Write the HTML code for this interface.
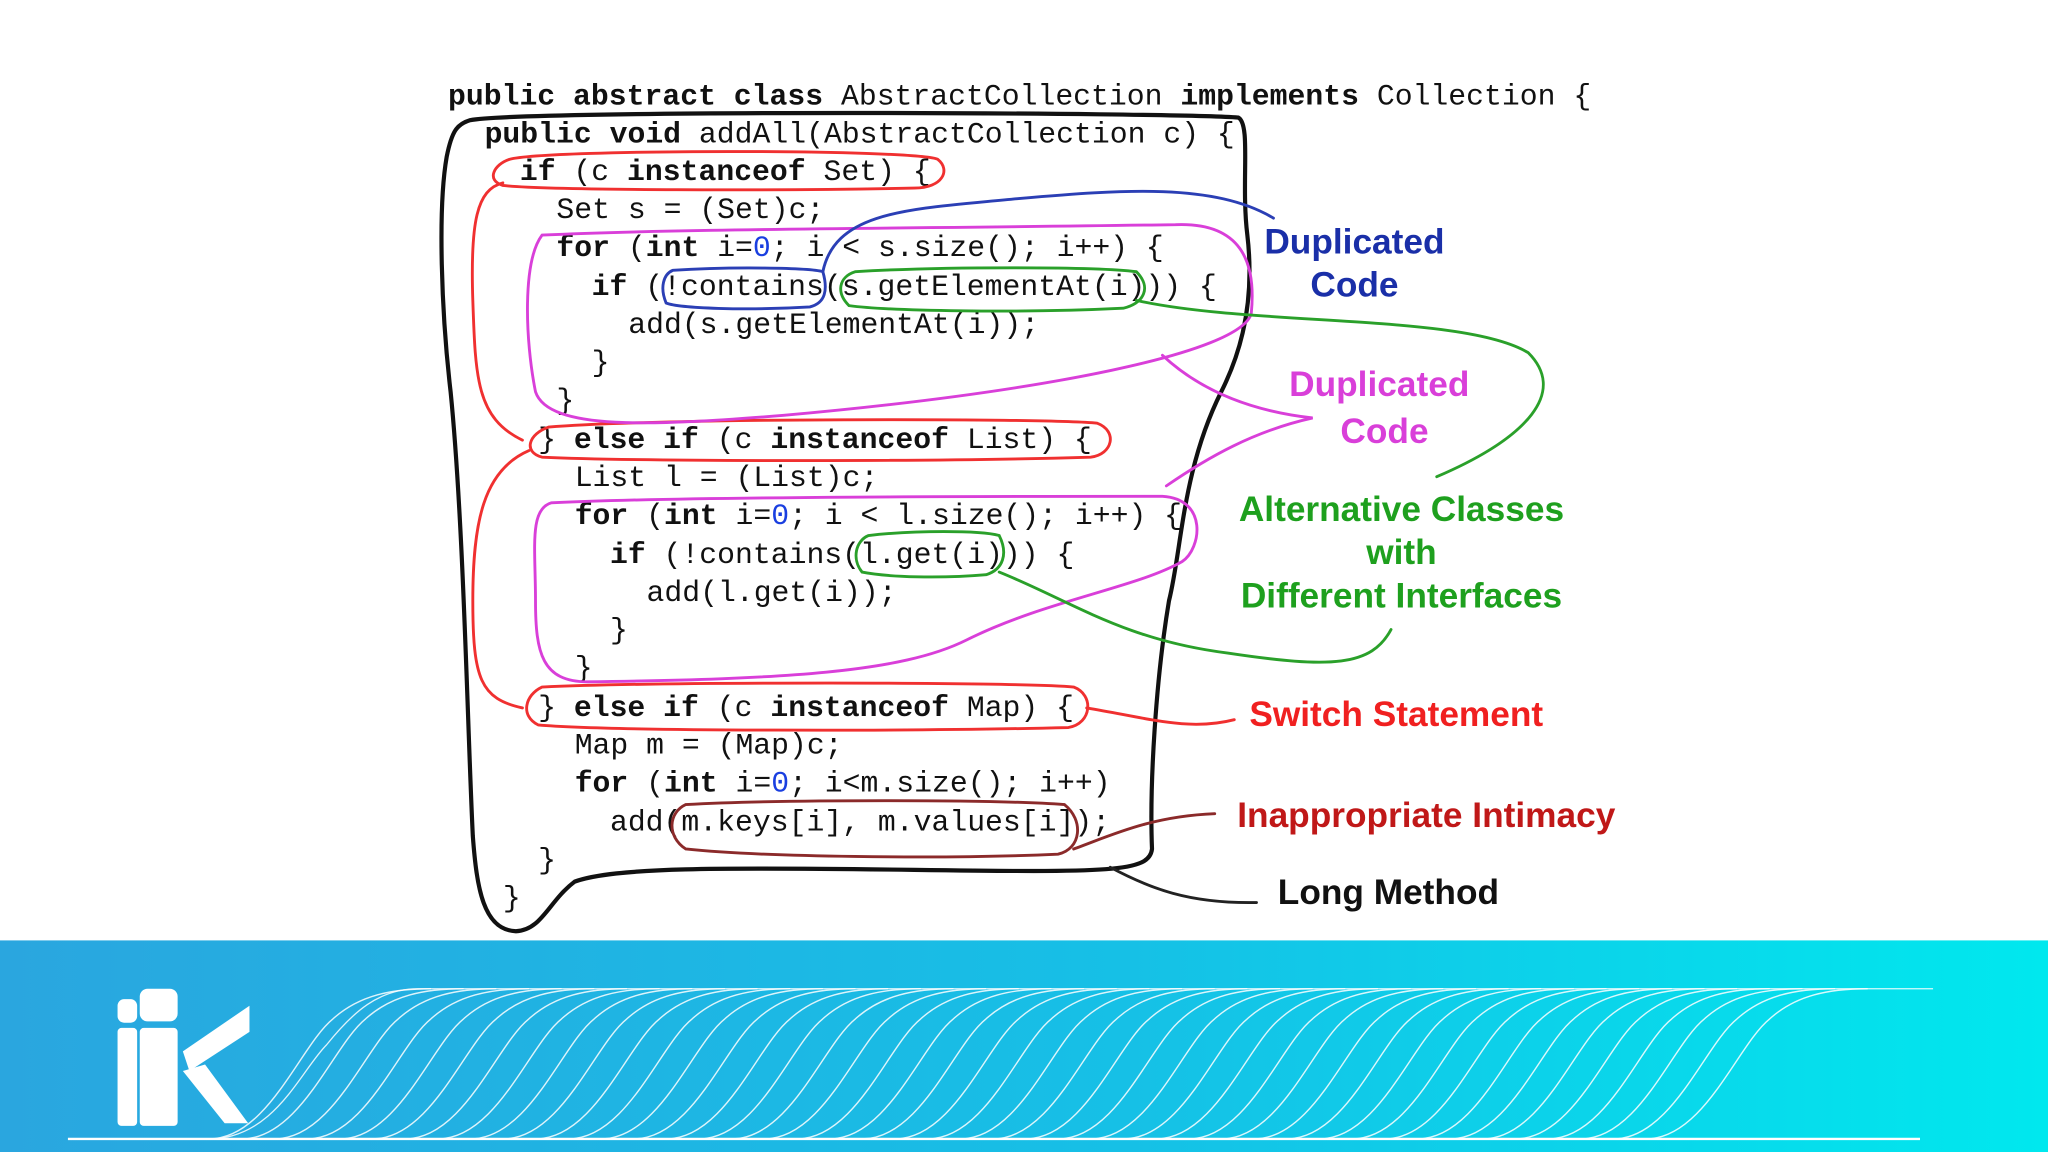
<!DOCTYPE html>
<html><head><meta charset="utf-8"><style>
html,body{margin:0;padding:0;width:2048px;height:1152px;overflow:hidden;background:#fff}
svg{display:block}
.c{font-family:"Liberation Mono",monospace;font-size:22.8px;fill:#111}
.c tspan.b{font-weight:bold}
.z{fill:#1a3fe0}
.l{font-family:"Liberation Sans",sans-serif;font-weight:bold;font-size:27px;text-anchor:middle}
</style></head><body>
<svg width="2048" height="1152" viewBox="0 0 1568 882">
<defs>
<linearGradient id="g" x1="0" x2="1" y1="0" y2="0">
<stop offset="0" stop-color="#2aa6df"/><stop offset="0.55" stop-color="#16c0e6"/><stop offset="1" stop-color="#00e8ee"/>
</linearGradient>
</defs>
<g class="c">
<text x="343" y="80"><tspan class="b">public abstract class</tspan> AbstractCollection <tspan class="b">implements</tspan> Collection {</text>
<text x="371" y="109"><tspan class="b">public void</tspan> addAll(AbstractCollection c) {</text>
<text x="398" y="138"><tspan class="b">if</tspan> (c <tspan class="b">instanceof</tspan> Set) {</text>
<text x="426" y="167">Set s = (Set)c;</text>
<text x="426" y="196"><tspan class="b">for</tspan> (<tspan class="b">int</tspan> i=<tspan class="z">0</tspan>; i &lt; s.size(); i++) {</text>
<text x="453" y="226"><tspan class="b">if</tspan> (!contains(s.getElementAt(i))) {</text>
<text x="481" y="255">add(s.getElementAt(i));</text>
<text x="453" y="284">}</text>
<text x="426" y="313">}</text>
<text x="412" y="343">} <tspan class="b">else if</tspan> (c <tspan class="b">instanceof</tspan> List) {</text>
<text x="440" y="372">List l = (List)c;</text>
<text x="440" y="401"><tspan class="b">for</tspan> (<tspan class="b">int</tspan> i=<tspan class="z">0</tspan>; i &lt; l.size(); i++) {</text>
<text x="467" y="431"><tspan class="b">if</tspan> (!contains(l.get(i))) {</text>
<text x="495" y="460">add(l.get(i));</text>
<text x="467" y="489">}</text>
<text x="440" y="518">}</text>
<text x="412" y="548">} <tspan class="b">else if</tspan> (c <tspan class="b">instanceof</tspan> Map) {</text>
<text x="440" y="577">Map m = (Map)c;</text>
<text x="440" y="606"><tspan class="b">for</tspan> (<tspan class="b">int</tspan> i=<tspan class="z">0</tspan>; i&lt;m.size(); i++)</text>
<text x="467" y="636">add(m.keys[i], m.values[i]);</text>
<text x="412" y="665">}</text>
<text x="385" y="694">}</text>
</g>
<g fill="none" stroke-width="2.2" stroke-linecap="round">
<!-- long method black -->
<path d="M360,92 C400,84 900,86 948,90 C958,95 950,140 955,180 C962,240 945,280 935,300 C905,360 905,420 895,460 C885,520 880,600 882,650 C880,668 850,668 700,666 C550,664 470,664 440,675 C420,690 415,712 395,713 C370,712 365,680 362,640 C358,560 355,400 345,300 C338,240 335,160 342,120 C346,100 350,95 360,92 Z" stroke="#111" stroke-width="3.2"/>
<path d="M850,664 C880,680 910,692 962,691" stroke="#222"/>
<!-- red -->
<path d="M390,122 C420,114 700,114 718,122 C728,130 722,144 700,144 C600,146 420,146 385,142 C372,138 378,126 390,122 Z" stroke="#f03030"/>
<path d="M385,140 C365,145 360,170 362,230 C364,290 365,320 400,337" stroke="#f03030"/>
<path d="M420,327 C500,320 800,320 840,324 C856,330 852,348 835,350 C700,354 480,353 415,350 C400,346 405,332 420,327 Z" stroke="#f03030"/>
<path d="M405,345 C370,360 362,400 362,460 C362,520 368,535 400,542" stroke="#f03030"/>
<path d="M415,526 C500,522 780,522 822,526 C838,532 836,554 818,557 C700,560 470,560 412,555 C398,548 402,532 415,526 Z" stroke="#f03030"/>
<path d="M832,542 C880,550 910,560 945,551" stroke="#f03030"/>
<!-- magenta -->
<path d="M415,180 C520,175 700,175 900,172 C950,170 962,200 958,240 C950,270 800,300 600,318 C500,326 420,330 410,300 C402,260 400,200 415,180 Z" stroke="#d93fd9"/>
<path d="M422,385 C520,380 780,380 890,380 C925,382 920,420 905,430 C870,450 800,460 740,490 C690,515 600,520 450,522 C415,522 410,500 410,460 C410,420 405,390 422,385 Z" stroke="#d93fd9"/>
<path d="M890,272 C920,300 960,315 1005,320 C960,330 925,350 893,372" stroke="#d93fd9"/>
<!-- blue -->
<path d="M515,207 C560,204 620,205 630,208 C634,222 632,232 620,235 C570,238 520,236 510,232 C505,220 508,210 515,207 Z" stroke="#2b3fb5"/>
<path d="M630,208 C640,160 700,160 780,152 C860,145 930,140 975,167" stroke="#2b3fb5"/>
<!-- green -->
<path d="M655,208 C720,204 840,204 870,208 C882,220 876,232 860,236 C780,240 680,238 650,234 C640,224 642,212 655,208 Z" stroke="#2aa02a"/>
<path d="M870,230 C960,250 1120,240 1170,270 C1200,300 1170,335 1100,365" stroke="#2aa02a"/>
<path d="M665,410 C700,406 750,406 765,410 C772,424 768,436 755,440 C720,443 680,442 660,438 C652,428 655,414 665,410 Z" stroke="#2aa02a"/>
<path d="M765,438 C820,460 860,490 940,500 C1020,512 1050,510 1065,482" stroke="#2aa02a"/>
<!-- brown -->
<path d="M525,616 C600,612 760,612 815,616 C830,628 828,650 810,654 C720,658 580,656 525,650 C510,640 512,622 525,616 Z" stroke="#8b2a2a"/>
<path d="M822,650 C850,640 880,625 930,623" stroke="#8b2a2a"/>
</g>
<text class="l" x="1037" y="194" fill="#1a2fa8">Duplicated</text>
<text class="l" x="1037" y="227" fill="#1a2fa8">Code</text>
<text class="l" x="1056" y="303" fill="#d93fd9">Duplicated</text>
<text class="l" x="1060" y="339" fill="#d93fd9">Code</text>
<text class="l" x="1073" y="399" fill="#1ea01e">Alternative Classes</text>
<text class="l" x="1073" y="432" fill="#1ea01e">with</text>
<text class="l" x="1073" y="465" fill="#1ea01e">Different Interfaces</text>
<text class="l" x="1069" y="556" fill="#f02020">Switch Statement</text>
<text class="l" x="1092" y="633" fill="#c01818">Inappropriate Intimacy</text>
<text class="l" x="1063" y="692" fill="#111">Long Method</text>
<!-- footer -->
<rect x="0" y="720" width="1568" height="162" fill="url(#g)"/>
<g fill="#fff">
<rect x="90" y="765" width="15" height="18" rx="5"/>
<rect x="90" y="787" width="15" height="75" rx="3"/>
<rect x="107" y="757" width="29" height="25" rx="6"/>
<rect x="107" y="787" width="29" height="75" rx="3"/>
<polygon points="140,805 191,770 191,790 145,820"/>
<polygon points="140,820 157,815 190,860 172,860"/>
</g>
<line x1="52" y1="872" x2="1470" y2="872" stroke="#fff" stroke-width="1.8"/>
<g fill="none" stroke="#fff" stroke-width="1" opacity="0.85">
<path id="w" d="M160,872 C210,872 230,820 250,800 C270,775 290,757 320,757 L1480,757"/>
</g>
<g fill="none" stroke="#fff" stroke-width="1.1" opacity="0.85">
<path d="M160,872 C205,872 230,800 255,780 C275,762 300,757 330,757"/>
<path d="M185,872 C230,872 255,800 280,780 C300,762 325,757 355,757"/>
<path d="M210,872 C255,872 280,800 305,780 C325,762 350,757 380,757"/>
<path d="M235,872 C280,872 305,800 330,780 C350,762 375,757 405,757"/>
<path d="M260,872 C305,872 330,800 355,780 C375,762 400,757 430,757"/>
<path d="M285,872 C330,872 355,800 380,780 C400,762 425,757 455,757"/>
<path d="M310,872 C355,872 380,800 405,780 C425,762 450,757 480,757"/>
<path d="M335,872 C380,872 405,800 430,780 C450,762 475,757 505,757"/>
<path d="M360,872 C405,872 430,800 455,780 C475,762 500,757 530,757"/>
<path d="M385,872 C430,872 455,800 480,780 C500,762 525,757 555,757"/>
<path d="M410,872 C455,872 480,800 505,780 C525,762 550,757 580,757"/>
<path d="M435,872 C480,872 505,800 530,780 C550,762 575,757 605,757"/>
<path d="M460,872 C505,872 530,800 555,780 C575,762 600,757 630,757"/>
<path d="M485,872 C530,872 555,800 580,780 C600,762 625,757 655,757"/>
<path d="M510,872 C555,872 580,800 605,780 C625,762 650,757 680,757"/>
<path d="M535,872 C580,872 605,800 630,780 C650,762 675,757 705,757"/>
<path d="M560,872 C605,872 630,800 655,780 C675,762 700,757 730,757"/>
<path d="M585,872 C630,872 655,800 680,780 C700,762 725,757 755,757"/>
<path d="M610,872 C655,872 680,800 705,780 C725,762 750,757 780,757"/>
<path d="M635,872 C680,872 705,800 730,780 C750,762 775,757 805,757"/>
<path d="M660,872 C705,872 730,800 755,780 C775,762 800,757 830,757"/>
<path d="M685,872 C730,872 755,800 780,780 C800,762 825,757 855,757"/>
<path d="M710,872 C755,872 780,800 805,780 C825,762 850,757 880,757"/>
<path d="M735,872 C780,872 805,800 830,780 C850,762 875,757 905,757"/>
<path d="M760,872 C805,872 830,800 855,780 C875,762 900,757 930,757"/>
<path d="M785,872 C830,872 855,800 880,780 C900,762 925,757 955,757"/>
<path d="M810,872 C855,872 880,800 905,780 C925,762 950,757 980,757"/>
<path d="M835,872 C880,872 905,800 930,780 C950,762 975,757 1005,757"/>
<path d="M860,872 C905,872 930,800 955,780 C975,762 1000,757 1030,757"/>
<path d="M885,872 C930,872 955,800 980,780 C1000,762 1025,757 1055,757"/>
<path d="M910,872 C955,872 980,800 1005,780 C1025,762 1050,757 1080,757"/>
<path d="M935,872 C980,872 1005,800 1030,780 C1050,762 1075,757 1105,757"/>
<path d="M960,872 C1005,872 1030,800 1055,780 C1075,762 1100,757 1130,757"/>
<path d="M985,872 C1030,872 1055,800 1080,780 C1100,762 1125,757 1155,757"/>
<path d="M1010,872 C1055,872 1080,800 1105,780 C1125,762 1150,757 1180,757"/>
<path d="M1035,872 C1080,872 1105,800 1130,780 C1150,762 1175,757 1205,757"/>
<path d="M1060,872 C1105,872 1130,800 1155,780 C1175,762 1200,757 1230,757"/>
<path d="M1085,872 C1130,872 1155,800 1180,780 C1200,762 1225,757 1255,757"/>
<path d="M1110,872 C1155,872 1180,800 1205,780 C1225,762 1250,757 1280,757"/>
<path d="M1135,872 C1180,872 1205,800 1230,780 C1250,762 1275,757 1305,757"/>
<path d="M1160,872 C1205,872 1230,800 1255,780 C1275,762 1300,757 1330,757"/>
<path d="M1185,872 C1230,872 1255,800 1280,780 C1300,762 1325,757 1355,757"/>
<path d="M1210,872 C1255,872 1280,800 1305,780 C1325,762 1350,757 1380,757"/>
<path d="M1235,872 C1280,872 1305,800 1330,780 C1350,762 1375,757 1405,757"/>
<path d="M1260,872 C1305,872 1330,800 1355,780 C1375,762 1400,757 1430,757"/>
</g>
</svg>
</body></html>
